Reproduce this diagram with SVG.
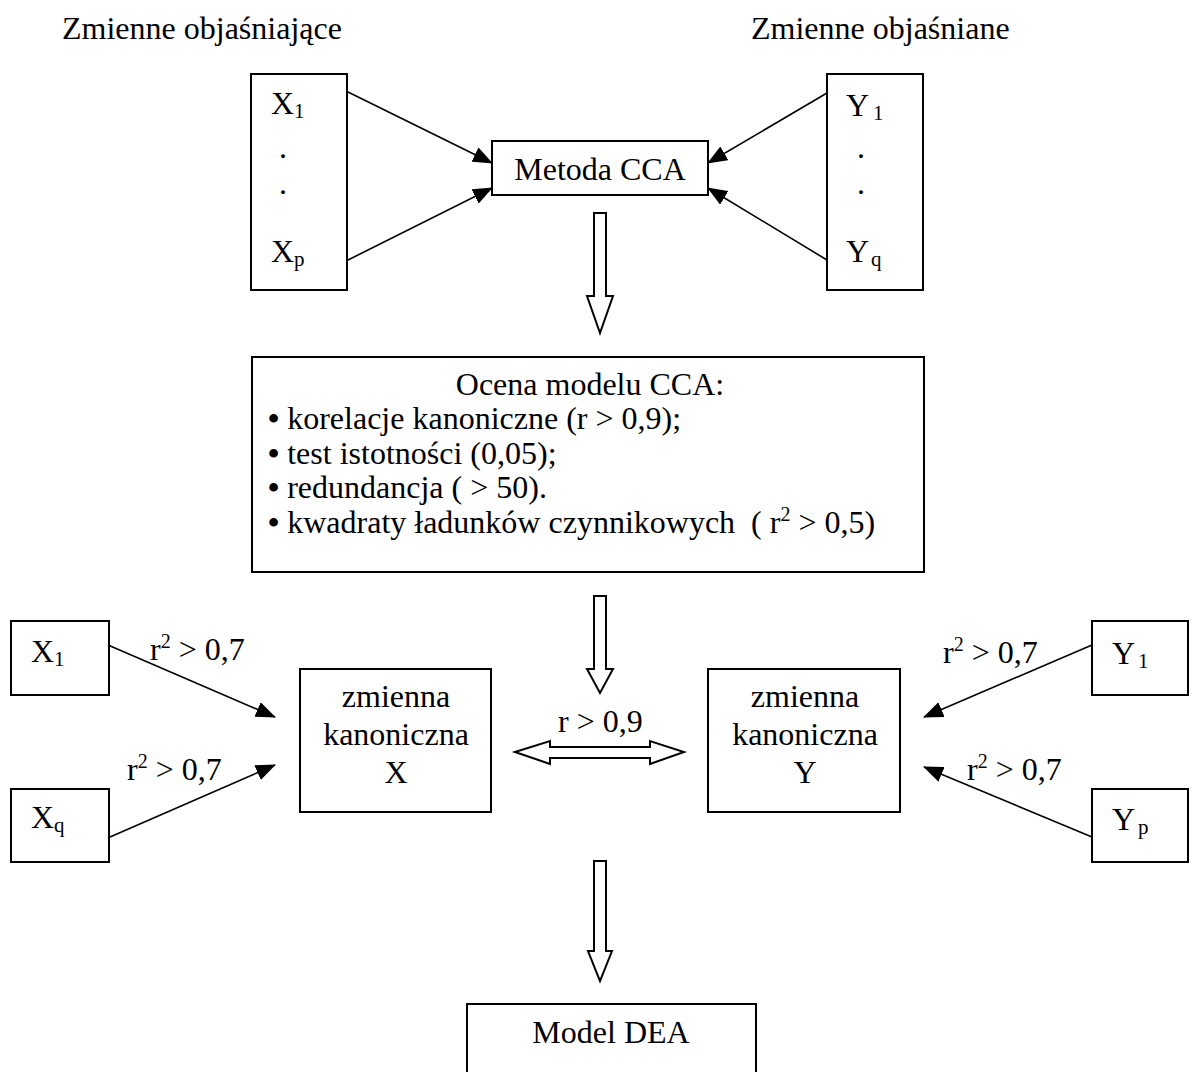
<svg xmlns="http://www.w3.org/2000/svg" width="1197" height="1072" viewBox="0 0 1197 1072">
<style>
text{font-family:"Liberation Serif","Times New Roman",serif;font-size:32px;fill:#000}
.sub{font-size:21px}
.sup{font-size:20px}
.bul{font-weight:bold}
.box{fill:#fff;stroke:#000;stroke-width:2}
.line{stroke:#000;stroke-width:1.6;fill:none}
.block{fill:#fff;stroke:#000;stroke-width:2;stroke-linejoin:miter}
.c{text-anchor:middle}
</style>
<defs>
<marker id="ah" markerUnits="userSpaceOnUse" markerWidth="20" markerHeight="16" refX="19" refY="8" orient="auto">
<path d="M0,0 L20,8 L0,16 z" fill="#000"/>
</marker>
</defs>
<rect width="1197" height="1072" fill="#fff"/>

<text x="62" y="39">Zmienne objaśniające</text>
<text x="751" y="39">Zmienne objaśniane</text>

<g id="inputs">
<rect class="box" x="251" y="74" width="96" height="216"/>
<text x="271" y="114">X<tspan class="sub" dy="4">1</tspan></text>
<text x="279" y="158">.</text>
<text x="279" y="194">.</text>
<text x="271" y="262">X<tspan class="sub" dy="4">p</tspan></text>
</g>

<g id="outputs">
<rect class="box" x="827" y="74" width="96" height="216"/>
<text x="846" y="116">Y<tspan class="sub" dx="4" dy="4">1</tspan></text>
<text x="857" y="158">.</text>
<text x="857" y="194">.</text>
<text x="846" y="262">Y<tspan class="sub" dx="2" dy="4">q</tspan></text>
</g>

<g id="cca">
<rect class="box" x="492" y="141" width="216" height="54"/>
<text class="c" x="600" y="180">Metoda CCA</text>
</g>

<g id="ocena">
<rect class="box" x="252" y="357" width="672" height="215"/>
<text class="c" x="590" y="395">Ocena modelu CCA:</text>
<text x="268" y="429"><tspan class="bul">•</tspan> korelacje kanoniczne (r &gt; 0,9);</text>
<text x="268" y="464"><tspan class="bul">•</tspan> test istotności (0,05);</text>
<text x="268" y="498"><tspan class="bul">•</tspan> redundancja ( &gt; 50).</text>
<text x="268" y="533" xml:space="preserve"><tspan class="bul">•</tspan> kwadraty ładunków czynnikowych  ( r<tspan class="sup" dy="-12">2</tspan><tspan dy="12"> &gt; 0,5)</tspan></text>
</g>

<g id="x1">
<rect class="box" x="11" y="621" width="98" height="74"/>
<text x="31" y="662">X<tspan class="sub" dy="4">1</tspan></text>
</g>
<g id="xq">
<rect class="box" x="11" y="789" width="98" height="73"/>
<text x="31" y="828">X<tspan class="sub" dy="4">q</tspan></text>
</g>
<g id="y1">
<rect class="box" x="1092" y="621" width="96" height="74"/>
<text x="1112" y="664">Y<tspan class="sub" dx="3" dy="4">1</tspan></text>
</g>
<g id="yp">
<rect class="box" x="1092" y="789" width="96" height="73"/>
<text x="1112" y="830">Y<tspan class="sub" dx="3" dy="4">p</tspan></text>
</g>

<g id="kanX">
<rect class="box" x="300" y="669" width="191" height="143"/>
<text class="c" x="396" y="707">zmienna</text>
<text class="c" x="396" y="745">kanoniczna</text>
<text class="c" x="396" y="783">X</text>
</g>
<g id="kanY">
<rect class="box" x="708" y="669" width="192" height="143"/>
<text class="c" x="805" y="707">zmienna</text>
<text class="c" x="805" y="745">kanoniczna</text>
<text class="c" x="805" y="783">Y</text>
</g>

<g id="dea">
<rect class="box" x="467" y="1004" width="289" height="80"/>
<text class="c" x="611" y="1043">Model DEA</text>
</g>

<g id="connectors">
<line class="line" x1="348" y1="92" x2="492" y2="163" marker-end="url(#ah)"/>
<line class="line" x1="348" y1="260" x2="492" y2="188" marker-end="url(#ah)"/>
<line class="line" x1="827" y1="93" x2="708" y2="163" marker-end="url(#ah)"/>
<line class="line" x1="827" y1="260" x2="708" y2="188" marker-end="url(#ah)"/>

<line class="line" x1="108" y1="645" x2="275" y2="717" marker-end="url(#ah)"/>
<line class="line" x1="110" y1="837" x2="275" y2="765" marker-end="url(#ah)"/>
<line class="line" x1="1092" y1="645" x2="924" y2="717" marker-end="url(#ah)"/>
<line class="line" x1="1092" y1="837" x2="924" y2="767" marker-end="url(#ah)"/>

<path class="block" d="M594,213 L606,213 L606,296 L613,296 L600,333 L587,296 L594,296 Z"/>
<path class="block" d="M594,596 L606,596 L606,669 L613,669 L600,693 L587,669 L594,669 Z"/>
<path class="block" d="M594,861 L606,861 L606,951 L612,951 L600,981 L588,951 L594,951 Z"/>
<path class="block" d="M515,752 L550,741 L550,747 L650,747 L650,741 L684,752 L650,764 L650,758 L550,758 L550,764 Z"/>

<text x="150" y="660">r<tspan class="sup" dy="-12">2</tspan><tspan dy="12"> &gt; 0,7</tspan></text>
<text x="127" y="780">r<tspan class="sup" dy="-12">2</tspan><tspan dy="12"> &gt; 0,7</tspan></text>
<text x="943" y="663">r<tspan class="sup" dy="-12">2</tspan><tspan dy="12"> &gt; 0,7</tspan></text>
<text x="967" y="780">r<tspan class="sup" dy="-12">2</tspan><tspan dy="12"> &gt; 0,7</tspan></text>
<text x="558" y="732">r &gt; 0,9</text>
</g>
</svg>
